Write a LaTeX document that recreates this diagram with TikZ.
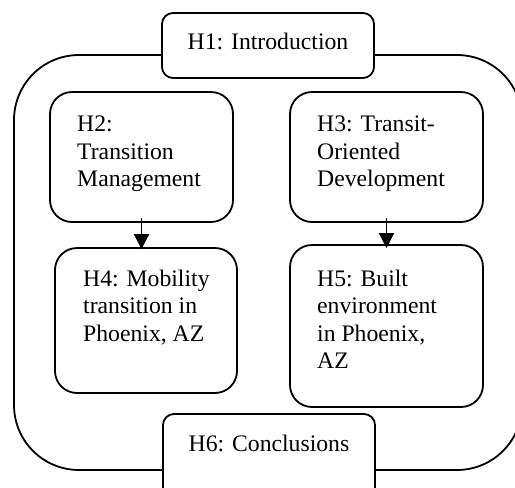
\documentclass[tikz,border=0pt]{standalone}
\usepackage{fontspec}
\setmainfont{Liberation Serif}
\usetikzlibrary{arrows.meta,calc}

\tikzset{
  chapter/.style={draw=black, line width=1.8pt, rounded corners=22pt, fill=white, inner sep=0pt},
  endbox/.style={draw=black, line width=1.8pt, rounded corners=11pt, fill=white, inner sep=0pt},
  frame/.style={draw=black, line width=1.8pt, rounded corners=65pt},
  label/.style={inner sep=0pt, font=\fontsize{23.7pt}{27.4pt}\selectfont},
  flow/.style={draw=black, line width=1.8pt, -{Triangle[length=15pt,width=15pt]}},
}

\newcommand{\lines}[1]{\parbox[t]{170pt}{\raggedright #1}}

\begin{document}
\begin{tikzpicture}[x=1pt,y=-1pt]
  \useasboundingbox (0,0) rectangle (515,488);
  \clip (0,0) rectangle (515,488);

  % surrounding loop from the introduction to the conclusions
  \draw[frame] (14,55) rectangle (522,470);

  % introduction and conclusions on the loop
  \node[endbox, minimum width=212pt, minimum height=65pt] (h1) at (268,45.5) {};
  \node[label, anchor=base] (t1) at (268,49) {H1: Introduction};

  \node[endbox, minimum width=212pt, minimum height=90pt] (h6) at (269,459) {};
  \node[label, anchor=base] (t6) at (269,451) {H6: Conclusions};

  % theory chapters
  \node[chapter, minimum width=183pt, minimum height=130pt] (h2) at (141.5,157) {};
  \node[label, anchor=base west] (t2) at (77,131.7) {\lines{H2:\\Transition\\Management}};

  \node[chapter, minimum width=193pt, minimum height=130pt] (h3) at (386.5,157) {};
  \node[label, anchor=base west] (t3) at (317,131.7) {\lines{H3: Transit-\\Oriented\\Development}};

  % case chapters
  \node[chapter, minimum width=182pt, minimum height=145pt] (h4) at (146,320.5) {};
  \node[label, anchor=base west] (t4) at (83,286.5) {\lines{H4: Mobility\\transition in\\Phoenix, AZ}};

  \node[chapter, minimum width=193pt, minimum height=162pt] (h5) at (386.5,326) {};
  \node[label, anchor=base west] (t5) at (317,286.5) {\lines{H5: Built\\environment\\in Phoenix,\\AZ}};

  % arrows from theory to case
  \coordinate (a2) at ($(h2.south)+(0,-5)$);
  \coordinate (b4) at ($(h4.north -| h2.south)+(0,2)$);
  \draw[flow] (a2) -- (b4);

  \coordinate (a3) at ($(h3.south)+(0,-5)$);
  \coordinate (b5) at ($(h5.north -| h3.south)+(0,4)$);
  \draw[flow] (a3) -- (b5);
\end{tikzpicture}
\end{document}
